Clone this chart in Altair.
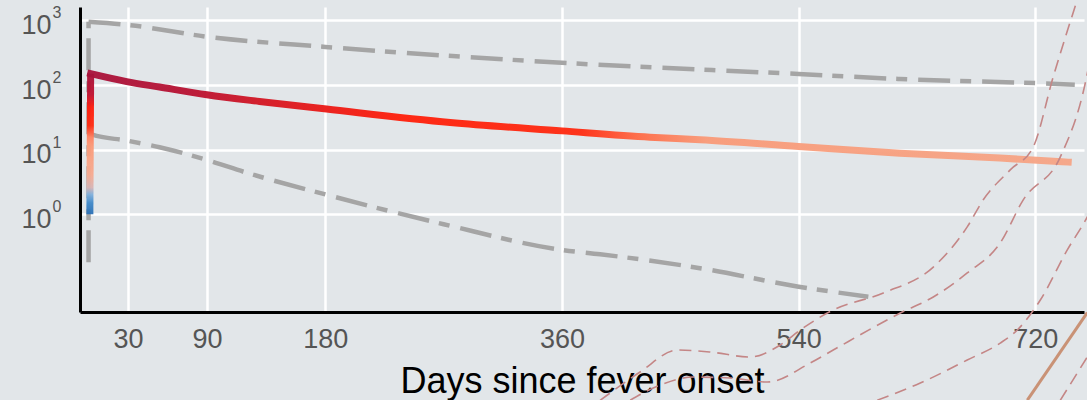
import altair as alt
import pandas as pd

# Axis ticks
x_ticks = [30, 90, 180, 360, 540, 720]
y_ticks = [1, 10, 100, 1000]
y_exponents = ["0", "1", "2", "3"]

# Antibody titer: early rise, then long-term decay
rise_days = [1.0, 1.6]
rise_titer = [1.0, 150]
decay_days = [1.6, 29, 54, 90, 130, 181, 275, 360, 427, 465, 540, 617, 693, 745]
decay_titer = [150, 113, 93, 70.6, 55.6, 42.4, 26.3, 19.5, 15.6, 14.2, 11.2, 8.8, 7.4, 6.4]

# Prediction bounds (onset segment, then upper and lower envelopes)
onset_days = [0, 0]
onset_titer = [0.18, 950]
upper_days = [0, 30, 90, 180, 360, 540, 617, 720, 750]
upper_titer = [950, 850, 560, 389, 221, 148, 124, 107, 101]
lower_days = [0, 3, 29, 54, 90, 120, 181, 270, 360, 389, 465, 540, 593]
lower_titer = [18, 17, 13.8, 10.9, 6.9, 4.4, 2.0, 0.70, 0.28, 0.24, 0.146, 0.0755, 0.0528]

# Neighbouring curves spilling in from the lower right
c1_days = [389.0, 419.4, 447.6, 472.7, 503.1, 526.0, 541.2, 566.3, 604.4, 642.4, 668.2, 680.4, 700.9, 718.4, 733.6, 751.9]
c1_vals = [0.00131, 0.0036, 0.00789, 0.00735, 0.00615, 0.00944, 0.0161, 0.0329, 0.0603, 0.152, 0.635, 1.67, 4.86, 11.0, 134, 2094]
c2_days = [411.9, 434.7, 459.8, 488.0, 516.1, 548.8, 566.3, 617.3, 642.4, 668.2, 693.3, 710.8, 739.0, 758.0, 769.4]
c2_vals = [0.00132, 0.00226, 0.00301, 0.00291, 0.00252, 0.00496, 0.00789, 0.0295, 0.0523, 0.123, 0.359, 1.67, 7.72, 108, 2094]
c3_days = [599.8, 632.5, 668.2, 693.3, 706.3, 723.8, 744.3, 759.5, 769.4]
c3_vals = [0.00132, 0.00243, 0.00552, 0.0101, 0.0161, 0.047, 0.28, 0.908, 2.38]
c4_days = [739.0, 759.5]
c4_vals = [0.00132, 0.00615]
solid_days = [713.9, 759.5]
solid_vals = [0.00132, 0.03]


def frame(days, vals, name=""):
    return pd.DataFrame({"day": days, "titer": vals, "i": range(len(days)), "curve": name})


FONT = "Liberation Sans"

x_enc = alt.X(
    "day:Q",
    scale=alt.Scale(domain=[-6.5, 757], nice=False, zero=False),
    axis=alt.Axis(
        values=x_ticks,
        title="Days since fever onset",
        labelFontSize=27,
        labelColor="#555555",
        labelFont=FONT,
        labelPadding=14,
        ticks=False,
        tickSize=0,
        domainColor="black",
        domainWidth=3,
        gridColor="white",
        gridWidth=2.5,
        titleFont=FONT,
        titleFontSize=36,
        titleFontWeight="normal",
        titleColor="black",
        titleY=80,
        titleBaseline="alphabetic",
    ),
)
y_enc = alt.Y(
    "titer:Q",
    scale=alt.Scale(type="log", domain=[0.0306, 1614], nice=False),
    axis=alt.Axis(
        values=y_ticks,
        labelExpr="'10'",
        title=None,
        labelFontSize=27,
        labelColor="#555555",
        labelFont=FONT,
        labelPadding=29,
        labelOffset=5,
        ticks=False,
        tickSize=0,
        domainColor="black",
        domainWidth=3,
        gridColor="white",
        gridWidth=2.5,
    ),
)

dash_style = dict(color="#a5a5a5", strokeWidth=4.5, strokeDash=[32, 10, 11, 11])

onset = alt.Chart(frame(onset_days, onset_titer)).mark_line(**dash_style).encode(
    x=x_enc, y=y_enc, order="i:Q"
)
bounds_df = pd.concat([frame(upper_days, upper_titer, "upper"), frame(lower_days, lower_titer, "lower")])
bounds = alt.Chart(bounds_df).mark_line(interpolate="monotone", **dash_style).encode(
    x=x_enc, y=y_enc, detail="curve:N", order="i:Q"
)

rise_grad = alt.LinearGradient(
    gradient="linear",
    x1=0, x2=0, y1=0, y2=1,
    stops=[
        alt.GradientStop(offset=0.0, color="#a8123a"),
        alt.GradientStop(offset=0.15, color="#c0102e"),
        alt.GradientStop(offset=0.24, color="#ff1a0a"),
        alt.GradientStop(offset=0.37, color="#ff2a10"),
        alt.GradientStop(offset=0.45, color="#ff8060"),
        alt.GradientStop(offset=0.52, color="#fb9a78"),
        alt.GradientStop(offset=0.72, color="#f7aa90"),
        alt.GradientStop(offset=0.81, color="#d8b4b4"),
        alt.GradientStop(offset=0.86, color="#80b0dc"),
        alt.GradientStop(offset=0.92, color="#3f88c8"),
        alt.GradientStop(offset=1.0, color="#2a6fb5"),
    ],
)
decay_grad = alt.LinearGradient(
    gradient="linear",
    x1=0, x2=1, y1=0, y2=0,
    stops=[
        alt.GradientStop(offset=0.0, color="#a8123a"),
        alt.GradientStop(offset=0.10, color="#b81232"),
        alt.GradientStop(offset=0.25, color="#ee1a14"),
        alt.GradientStop(offset=0.32, color="#ff1f0a"),
        alt.GradientStop(offset=0.50, color="#ff2a10"),
        alt.GradientStop(offset=0.56, color="#ff6a45"),
        alt.GradientStop(offset=0.63, color="#f99a78"),
        alt.GradientStop(offset=1.0, color="#f6a586"),
    ],
)

rise = alt.Chart(frame(rise_days, rise_titer)).mark_line(
    stroke=rise_grad, strokeWidth=7, strokeCap="butt", opacity=0.95
).encode(x=x_enc, y=y_enc, order="i:Q")

decay = alt.Chart(frame(decay_days, decay_titer)).mark_line(
    stroke=decay_grad, strokeWidth=7, strokeCap="square", opacity=0.95, interpolate="monotone"
).encode(x=x_enc, y=y_enc, order="i:Q")

others_df = pd.concat([
    frame(c1_days, c1_vals, "c1"),
    frame(c2_days, c2_vals, "c2"),
    frame(c3_days, c3_vals, "c3"),
    frame(c4_days, c4_vals, "c4"),
])
others = alt.Chart(others_df).mark_line(
    color="#c48686", strokeWidth=1.6, strokeDash=[12, 7], interpolate="monotone"
).encode(x=x_enc, y=y_enc, detail="curve:N", order="i:Q")

solid = alt.Chart(frame(solid_days, solid_vals)).mark_line(
    color="#c99276", strokeWidth=3
).encode(x=x_enc, y=y_enc, order="i:Q")

exp_df = pd.DataFrame({"day": [-6.5] * len(y_ticks), "titer": y_ticks, "label": y_exponents})
exps = alt.Chart(exp_df).mark_text(
    font=FONT, fontSize=16, color="#555555", align="center", baseline="middle", dx=-23, dy=-7
).encode(x=x_enc, y=y_enc, text="label:N")

chart = (
    alt.layer(onset, bounds, rise, decay, others, solid, exps)
    .properties(
        width=1004,
        height=305,
        background="#e2e6e9",
        padding={"left": 80, "top": 7, "right": 3, "bottom": 88},
        autosize=alt.AutoSizeParams(type="none"),
    )
    .configure_view(stroke=None)
)

chart.save("out.html", embed_options={"renderer": "svg", "actions": False})
